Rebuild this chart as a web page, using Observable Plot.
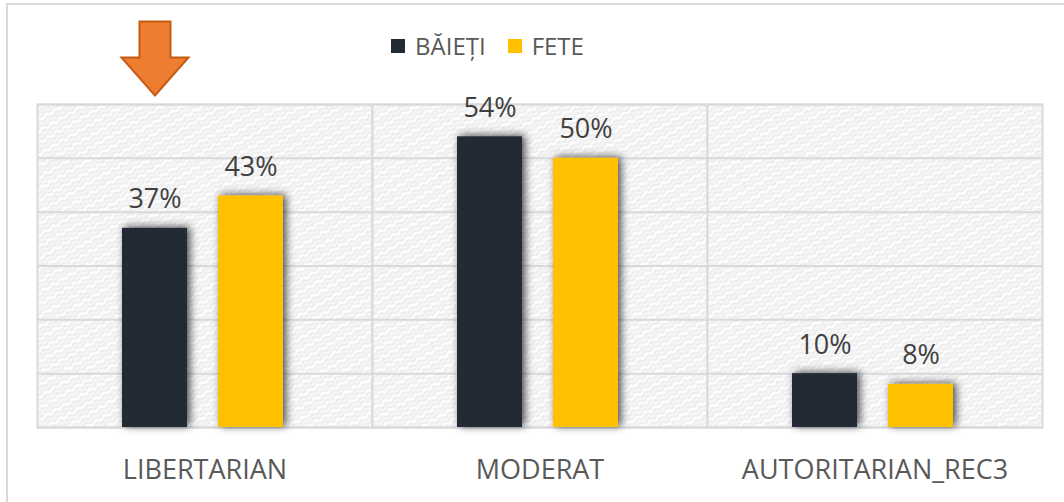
<!DOCTYPE html>
<html>
<head>
<meta charset="utf-8">
<script src="https://cdn.jsdelivr.net/npm/d3@7"></script>
<script src="https://cdn.jsdelivr.net/npm/@observablehq/plot@0.6"></script>
<style>
  html, body { margin: 0; padding: 0; background: #fff; overflow: hidden; }
  #wrap { position: relative; width: 1064px; height: 502px; font-family: 'Open Sans', sans-serif; }
  #border { position: absolute; left: 6px; top: 3px; width: 1200px; height: 700px; border-top: 2px solid #D9D9D9; border-left: 2px solid #D9D9D9; pointer-events: none; }
  #legend { position: absolute; top: 29px; left: 391px; display: flex; align-items: center; font-size: 24px; color: #595959; }
  #legend .item { display: flex; align-items: center; margin-right: 22px; }
  #legend .sw { width: 14px; height: 14px; margin-right: 10px; }
  svg { position: absolute; left: 0; top: 0; overflow: visible; }
</style>
</head>
<body>
<div id="wrap">
  <div id="border"></div>
  <div id="chart"></div>
  <div id="legend"></div>
</div>
<script>
const categories = ["LIBERTARIAN", "MODERAT", "AUTORITARIAN_REC3"];
const series = ["BĂIEȚI", "FETE"];
const baieti = [37, 54, 10];
const fete = [43, 50, 8];
const yTicks = [0, 10, 20, 30, 40, 50, 60];
const colors = ["#222A35", "#FFC000"];
const highlighted = [{cat: "LIBERTARIAN", s: "BĂIEȚI"}];

const data = categories.flatMap((c, i) => [
  {cat: c, s: series[0], v: baieti[i]},
  {cat: c, s: series[1], v: fete[i]}
]);

const arrowSymbol = {
  draw(ctx) {
    ctx.moveTo(-15.5, -37);
    ctx.lineTo(15.5, -37);
    ctx.lineTo(15.5, -1);
    ctx.lineTo(33.5, -1);
    ctx.lineTo(0, 37);
    ctx.lineTo(-33.5, -1);
    ctx.lineTo(-15.5, -1);
    ctx.closePath();
  }
};

const chart = Plot.plot({
  width: 1064,
  height: 502,
  marginTop: 104,
  marginBottom: 75,
  marginLeft: 37,
  marginRight: 22,
  style: {fontFamily: "'Open Sans', sans-serif", background: "transparent", overflow: "visible"},
  fx: {domain: categories, padding: 0, label: null},
  x: {domain: series, paddingInner: 0.32, paddingOuter: 0.9, axis: null},
  y: {domain: [0, 60], axis: null},
  color: {domain: series, range: colors},
  marks: [
    Plot.frame({fill: "url(#weave)", stroke: "#D9D9D9", strokeWidth: 2}),
    Plot.ruleY(yTicks, {stroke: "#D9D9D9", strokeWidth: 2}),
    Plot.barY(data, {fx: "cat", x: "s", y: "v", fill: "s", dx: -2}),
    Plot.text(data, {fx: "cat", x: "s", y: "v", text: d => d.v + "%", dx: -2, dy: -20, lineAnchor: "bottom", fontSize: 27, fill: "#404040"}),
    Plot.dot(highlighted, {fx: "cat", x: "s", frameAnchor: "top", dx: -2, dy: -46, symbol: arrowSymbol, r: 10, fill: "#ED7D31", stroke: "#C55A11", strokeWidth: 2}),
    Plot.axisFx({anchor: "bottom", tickSize: 0, tickPadding: 32, fontSize: 27, fill: "#595959", label: null})
  ]
});

const ns = "http://www.w3.org/2000/svg";
const defs = document.createElementNS(ns, "defs");
defs.innerHTML = `
  <pattern id="weave" width="10" height="10" patternUnits="userSpaceOnUse" patternTransform="rotate(-30)">
    <rect width="10" height="10" fill="#EEEEEE"/>
    <path d="M0 2.5 Q2.5 0 5 2.5 T10 2.5" stroke="#FFFFFF" stroke-width="2.4" fill="none"/>
    <path d="M0 7.5 Q2.5 5 5 7.5 T10 7.5" stroke="#F8F8F8" stroke-width="2" fill="none"/>
  </pattern>
  <filter id="shadow" x="-40%" y="-40%" width="180%" height="180%">
    <feDropShadow dx="3" dy="-1" stdDeviation="4" flood-color="#000" flood-opacity="0.7"/>
  </filter>`;
chart.insertBefore(defs, chart.firstChild);
chart.querySelectorAll("g[aria-label='bar'] rect").forEach(r => r.setAttribute("filter", "url(#shadow)"));

document.getElementById("chart").appendChild(chart);

const legend = document.getElementById("legend");
series.forEach((s, i) => {
  const item = document.createElement("div");
  item.className = "item";
  const sw = document.createElement("div");
  sw.className = "sw";
  sw.style.background = colors[i];
  const t = document.createElement("span");
  t.textContent = s;
  item.appendChild(sw);
  item.appendChild(t);
  legend.appendChild(item);
});
</script>
</body>
</html>
